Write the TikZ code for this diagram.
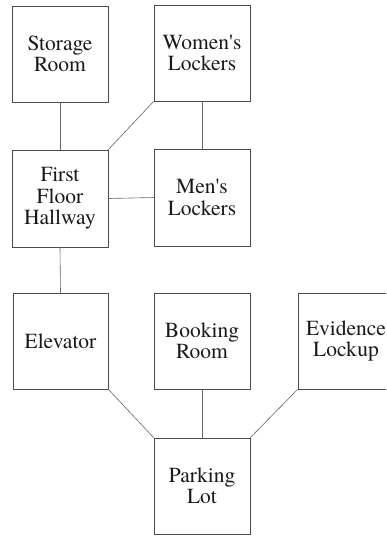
\documentclass[tikz,border=0pt]{standalone}
\usepackage{fontspec}
\setmainfont{texgyretermes}[Extension=.otf,UprightFont=*-regular,BoldFont=*-bold]
\begin{document}
\begin{tikzpicture}[x=1pt,y=-1pt,
  room/.style={draw=black!70,line width=0.7pt,minimum width=96pt,minimum height=96pt,
    inner sep=0pt,align=center,font=\fontsize{21.5}{21.5}\selectfont,text=black!90},
  link/.style={draw=black!60,line width=0.6pt}]
\clip (0,0) rectangle (386,536);
\fill[white] (0,0) rectangle (386,536);
\node[room] (storage) at (60,54) {Storage\\Room};
\node[room] (women) at (202,53) {Women\textquotesingle s\\Lockers};
\node[room,minimum height=97pt] (hall) at (60,198.5) {First\\Floor\\Hallway};
\node[room,minimum height=97pt] (men) at (202,197.5) {Men\textquotesingle s\\Lockers};
\node[room,minimum width=95pt] (elev) at (60.5,341) {Elevator};
\node[room] (booking) at (202,341) {Booking\\Room};
\node[room] (evidence) at (346,341) {Evidence\\Lockup};
\node[room] (parking) at (202,486) {Parking\\Lot};
\draw[link] (storage.south) -- (hall.north);
\draw[link] (women.south west) -- (hall.north east);
\draw[link] (women.south) -- (men.north);
\draw[link] (hall.east) -- (men.west);
\draw[link] (hall.south) -- (elev.north);
\draw[link] (elev.south east) -- (parking.north west);
\draw[link] (booking.south) -- (parking.north);
\draw[link] (evidence.south west) -- (parking.north east);
\end{tikzpicture}
\end{document}
